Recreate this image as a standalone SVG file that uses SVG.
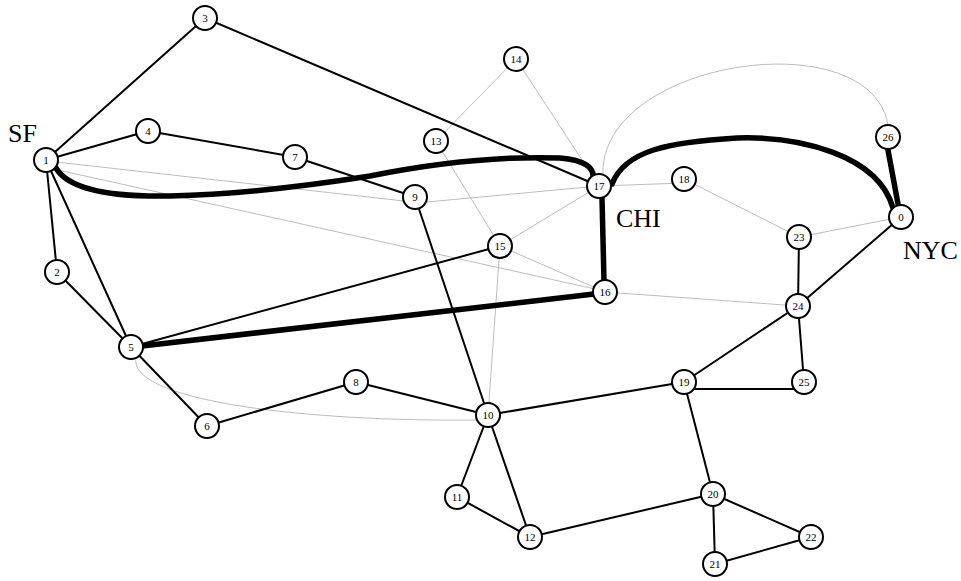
<svg xmlns="http://www.w3.org/2000/svg" width="961" height="581" viewBox="0 0 961 581">
<style>
.bg{fill:#fff}
.e{stroke:#000;stroke-width:2;fill:none}
.g{stroke:#bdbdbd;stroke-width:1;fill:none}
.t{stroke:#000;stroke-width:5.5;fill:none;stroke-linecap:round}
.n circle{fill:#fff;stroke:#000;stroke-width:2}
.n text{font-family:"Liberation Serif","Times New Roman",serif;font-size:11px;text-anchor:middle;fill:#000}
.big{font-family:"Liberation Serif","Times New Roman",serif;font-size:26px;fill:#000}
</style>
<rect class="bg" x="0" y="0" width="961" height="581"/>
<g id="connectors">
<line class="g" x1="56" y1="162" x2="404" y2="201"/>
<line class="g" x1="58" y1="170" x2="595" y2="289"/>
<line class="g" x1="427" y1="202" x2="588" y2="187"/>
<line class="g" x1="516" y1="59" x2="436" y2="141"/>
<line class="g" x1="516" y1="59" x2="599" y2="186"/>
<line class="g" x1="436" y1="141" x2="500" y2="246"/>
<line class="g" x1="500" y1="246" x2="599" y2="186"/>
<line class="g" x1="500" y1="246" x2="605" y2="292"/>
<line class="g" x1="500" y1="246" x2="488" y2="415"/>
<line class="g" x1="599" y1="186" x2="684" y2="183"/>
<line class="g" x1="684" y1="179" x2="799" y2="237"/>
<line class="g" x1="799" y1="237" x2="901" y2="217"/>
<line class="g" x1="605" y1="292" x2="798" y2="306"/>
<path class="g" d="M603,174 C600,60 870,20 888,125"/>
<path class="g" d="M136,358 C128,400 300,422 478,420"/>
<line class="e" x1="46" y1="160" x2="205" y2="18"/>
<line class="e" x1="205" y1="18" x2="599" y2="186"/>
<line class="e" x1="46" y1="160" x2="148" y2="131"/>
<line class="e" x1="148" y1="131" x2="295" y2="157"/>
<line class="e" x1="295" y1="157" x2="415" y2="197"/>
<line class="e" x1="46" y1="160" x2="57" y2="272"/>
<line class="e" x1="57" y1="272" x2="131" y2="347"/>
<line class="e" x1="46" y1="160" x2="131" y2="347"/>
<line class="e" x1="131" y1="347" x2="207" y2="426"/>
<line class="e" x1="207" y1="426" x2="356" y2="382"/>
<line class="e" x1="356" y1="382" x2="488" y2="415"/>
<line class="e" x1="415" y1="197" x2="488" y2="415"/>
<line class="e" x1="131" y1="347" x2="500" y2="246"/>
<line class="e" x1="488" y1="415" x2="684" y2="382"/>
<line class="e" x1="488" y1="415" x2="457" y2="497"/>
<line class="e" x1="488" y1="415" x2="530" y2="537"/>
<line class="e" x1="457" y1="497" x2="530" y2="537"/>
<line class="e" x1="530" y1="537" x2="713" y2="494"/>
<line class="e" x1="684" y1="382" x2="713" y2="494"/>
<line class="e" x1="713" y1="494" x2="715" y2="564"/>
<line class="e" x1="713" y1="494" x2="811" y2="537"/>
<line class="e" x1="715" y1="564" x2="811" y2="537"/>
<line class="e" x1="684" y1="382" x2="798" y2="306"/>
<line class="e" x1="684" y1="389" x2="804" y2="389"/>
<line class="e" x1="798" y1="306" x2="804" y2="382"/>
<line class="e" x1="799" y1="237" x2="798" y2="306"/>
<line class="e" x1="798" y1="306" x2="901" y2="217"/>
<path class="t" d="M56,168 C70,192 120,197 170,196 C250,194 320,184 370,176 C430,164 500,156 560,158 C585,160 594,168 593,177"/>
<path class="t" d="M612,184 C625,150 670,142 737,138 C800,136 878,155 893,208"/>
<line class="t" x1="602" y1="198" x2="604" y2="281"/>
<line class="t" x1="142" y1="346" x2="594" y2="294"/>
<line class="t" x1="888" y1="150" x2="898" y2="204"/>
</g>
<g id="n0" class="n"><circle cx="901" cy="217" r="12"/><text x="901" y="221">0</text></g>
<g id="n1" class="n"><circle cx="46" cy="160" r="12"/><text x="46" y="164">1</text></g>
<g id="n2" class="n"><circle cx="57" cy="272" r="12"/><text x="57" y="276">2</text></g>
<g id="n3" class="n"><circle cx="205" cy="18" r="12"/><text x="205" y="22">3</text></g>
<g id="n4" class="n"><circle cx="148" cy="131" r="12"/><text x="148" y="135">4</text></g>
<g id="n5" class="n"><circle cx="131" cy="347" r="12"/><text x="131" y="351">5</text></g>
<g id="n6" class="n"><circle cx="207" cy="426" r="12"/><text x="207" y="430">6</text></g>
<g id="n7" class="n"><circle cx="295" cy="157" r="12"/><text x="295" y="161">7</text></g>
<g id="n8" class="n"><circle cx="356" cy="382" r="12"/><text x="356" y="386">8</text></g>
<g id="n9" class="n"><circle cx="415" cy="197" r="12"/><text x="415" y="201">9</text></g>
<g id="n10" class="n"><circle cx="488" cy="415" r="12"/><text x="488" y="419">10</text></g>
<g id="n11" class="n"><circle cx="457" cy="497" r="12"/><text x="457" y="501">11</text></g>
<g id="n12" class="n"><circle cx="530" cy="537" r="12"/><text x="530" y="541">12</text></g>
<g id="n13" class="n"><circle cx="436" cy="141" r="12"/><text x="436" y="145">13</text></g>
<g id="n14" class="n"><circle cx="516" cy="59" r="12"/><text x="516" y="63">14</text></g>
<g id="n15" class="n"><circle cx="500" cy="246" r="12"/><text x="500" y="250">15</text></g>
<g id="n16" class="n"><circle cx="605" cy="292" r="12"/><text x="605" y="296">16</text></g>
<g id="n17" class="n"><circle cx="599" cy="186" r="12"/><text x="599" y="190">17</text></g>
<g id="n18" class="n"><circle cx="684" cy="179" r="12"/><text x="684" y="183">18</text></g>
<g id="n19" class="n"><circle cx="684" cy="382" r="12"/><text x="684" y="386">19</text></g>
<g id="n20" class="n"><circle cx="713" cy="494" r="12"/><text x="713" y="498">20</text></g>
<g id="n21" class="n"><circle cx="715" cy="564" r="12"/><text x="715" y="568">21</text></g>
<g id="n22" class="n"><circle cx="811" cy="537" r="12"/><text x="811" y="541">22</text></g>
<g id="n23" class="n"><circle cx="799" cy="237" r="12"/><text x="799" y="241">23</text></g>
<g id="n24" class="n"><circle cx="798" cy="306" r="12"/><text x="798" y="310">24</text></g>
<g id="n25" class="n"><circle cx="804" cy="382" r="12"/><text x="804" y="386">25</text></g>
<g id="n26" class="n"><circle cx="888" cy="137" r="12"/><text x="888" y="141">26</text></g>
<g id="labels">
<text class="big" x="8" y="142">SF</text>
<text class="big" x="616" y="227">CHI</text>
<text class="big" x="903" y="259">NYC</text>
</g>
</svg>
